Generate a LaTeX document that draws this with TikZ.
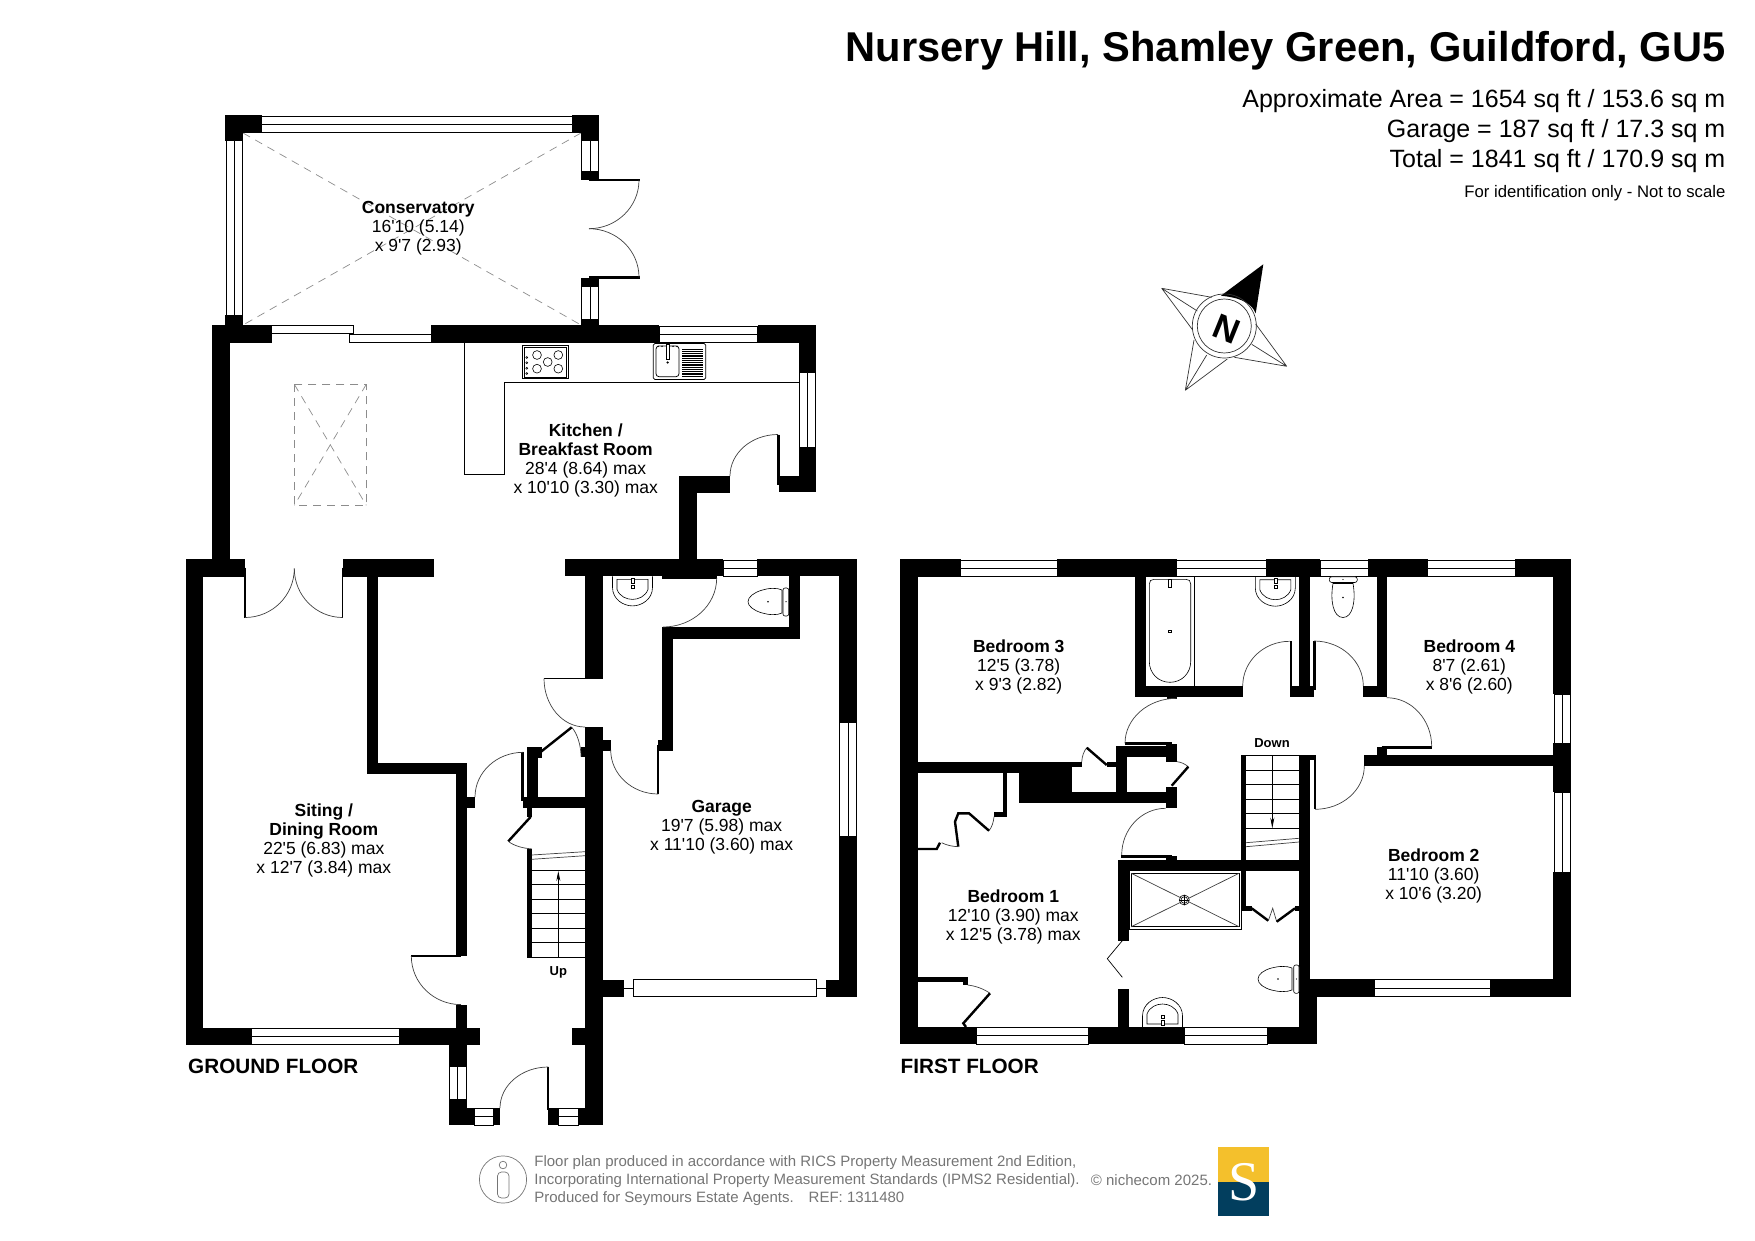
\documentclass[tikz,border=0pt]{standalone}
\usepackage{fontspec}
\usetikzlibrary{calc,arrows.meta}
\newfontfamily\arial{Liberation Sans}
\newfontfamily\tnr{Liberation Serif}
\definecolor{footgrey}{HTML}{757575}
\definecolor{dashgrey}{HTML}{8C8C8C}
\definecolor{logoyellow}{HTML}{F4C02C}
\definecolor{logonavy}{HTML}{023E5E}
\tikzset{
  wall/.style={fill=black,draw=none},
  win/.style={draw=black,line width=0.9pt,fill=white},
  leaf/.style={draw=black,line width=2.4pt,line cap=butt},
  swing/.style={draw=black!75,line width=0.7pt},
  fix/.style={draw=black,line width=0.75pt},
  grey dash/.style={draw=dashgrey,line width=0.7pt,dash pattern=on 8pt off 6pt},
  roomlabel/.style={font=\arial\fontsize{17.5}{19}\selectfont,align=center,inner sep=0pt,text=black},
  headline/.style={font=\arial,anchor=east,inner sep=0pt},
  floorname/.style={font=\arial\bfseries\fontsize{20.7}{24}\selectfont,anchor=west,inner sep=0pt},
  stairname/.style={font=\arial\bfseries\fontsize{13}{15}\selectfont,inner sep=0pt},
  footline/.style={font=\arial\fontsize{15}{18}\selectfont,text=footgrey,anchor=west,inner sep=0pt},
}
\newcommand{\rn}[1]{{\fontsize{17.5}{19}\selectfont\bfseries #1}}
\newcommand{\wl}[4]{\fill[wall] (#1,#2) rectangle (#3,#4);}
% window: horizontal centre line
\newcommand{\winh}[4]{\draw[win] (#1,#2) rectangle (#3,#4); \draw[win] (#1,{(#2+#4)/2}) -- (#3,{(#2+#4)/2});}
% window: vertical centre line
\newcommand{\winv}[4]{\draw[win] (#1,#2) rectangle (#3,#4); \draw[win] ({(#1+#3)/2},#2) -- ({(#1+#3)/2},#4);}
% quarter swing: tip, end, corner
\newcommand{\qarc}[6]{\draw[swing] (#1,#2) .. controls ($(#1,#2)!0.5523!(#5,#6)$) and ($(#3,#4)!0.5523!(#5,#6)$) .. (#3,#4);}
% basin: hanging from a wall, axis at x
\newcommand{\basinshape}{%
  \draw[fix,line width=0.6pt] (-20,0) -- (-20,11) .. controls (-20,23) and (-9,29.5) .. (0,29.5) .. controls (9,29.5) and (20,23) .. (20,11) -- (20,0);
  \draw[fix,line width=0.6pt] (-15.5,3) -- (-15.5,13) .. controls (-13,20) and (-6,23) .. (0,23) .. controls (6,23) and (13,20) .. (15.5,13) -- (15.5,3) -- cycle;
  \draw[fix,fill=white,line width=0.6pt] (-1.5,2) rectangle (1.5,7);
  \draw[fix,line width=0.6pt] (-1.5,9) rectangle (1.5,11.5);
}
\begin{document}
\begin{tikzpicture}[x=1pt,y=-1pt]
\useasboundingbox (0,0) rectangle (1755,1241);

%% ---------- CONSERVATORY
\draw[grey dash] (243,133) -- (581,325);
\draw[grey dash] (581,133) -- (243,325);
\wl{225}{115.3}{261.7}{132.7}
\wl{572.3}{115.3}{599}{132.7}
\wl{225}{115.3}{242.7}{140.7}
\wl{581.3}{115.3}{599}{140}
\wl{225}{315}{242.7}{325}
\winh{261.7}{116.3}{572.3}{132.3}
\winv{226}{140.7}{242.3}{315}
\winv{581.7}{140}{598.5}{171}
\wl{581.3}{171}{599}{180}
\wl{581.3}{278}{599}{286}
\winv{581.7}{286}{598.5}{319.3}
\wl{581.3}{319.3}{599}{325}
\draw[leaf] (589,180) -- (639.5,180);
\draw[leaf] (589,277.3) -- (639.5,277.3);
\qarc{639}{180}{589}{228.7}{639}{228.7}
\qarc{639}{277.3}{589}{228.7}{639}{228.7}

%% ---------- KITCHEN / RECEPTION
\wl{212}{325}{271.7}{342.7}
\wl{431}{325}{659}{342.7}
\wl{757.7}{325}{816}{342.7}
\wl{212}{325}{229.7}{559.4}
\wl{799.3}{325}{816}{372.5}
\wl{799.3}{447}{816}{492}
\wl{779}{475.8}{816}{492}
\wl{679}{475.8}{730}{492.8}
\wl{679}{475.8}{696.7}{559.4}
\draw[win] (271.7,325.7) rectangle (353.3,333.7);
\draw[win] (349.3,334.3) rectangle (431,342.3);
\winh{659}{326}{757.7}{342.7}
\winv{799.7}{372.5}{815.5}{447}
\draw[leaf] (778.3,434.5) -- (778.3,485);
\qarc{778}{434.5}{730}{476}{730}{434.5}
\draw[grey dash] (294.3,384.3) rectangle (366.3,505.3);
\draw[grey dash] (294.3,384.3) -- (366.3,505.3);
\draw[grey dash] (366.3,384.3) -- (294.3,505.3);
\draw[fix] (464.3,342.7) -- (464.3,474.3) -- (504.3,474.3) -- (504.3,382.3) -- (799.3,382.3);
% hob
\draw[fix] (522,345.7) rectangle (568.7,378.7);
\draw[fix,line width=0.5pt] (524,347.5) rectangle (566.7,376.9);
\foreach \cx/\cy in {537/355,558.3/355,547.7/362,537/368.7,558.3/368.7}
  \draw[fix,line width=0.6pt] (\cx,\cy) circle (4.4);
\foreach \ky in {357.5,362.7,368.3,373.5}
  \draw[fix,line width=0.5pt] (526.7,\ky) circle (1);
% sink
\draw[fix,rounded corners=1.5pt] (653.3,343.6) rectangle (705.7,379.4);
\draw[fix,rounded corners=3pt] (656,346) rectangle (679,376.7);
\draw[fix,fill=white,line width=0.6pt] (666,344.5) rectangle (669.3,359);
\foreach \ky in {349.6,351.4,...,377} \draw[fix,line width=1pt] (682,\ky) -- (702.7,\ky);
\fill (667.6,362.5) circle (1.2);
\foreach \kx in {658,662,673,677} \fill (\kx,346.3) circle (0.8);

%% ---------- SITTING ROOM
\wl{185.7}{559}{245}{576.8}
\wl{342.7}{559}{434}{576.8}
\wl{185.7}{559}{203}{1044.5}
\wl{367.3}{559}{377.7}{774}
\wl{367.3}{763.4}{466.7}{774}
\wl{456}{763.4}{466.7}{956}
\wl{456}{1004.6}{466.7}{1044.5}
\wl{456}{797}{475}{807.7}
\wl{185.7}{1027.5}{251.7}{1044.5}
\wl{399.3}{1027.5}{480}{1044.5}
\winh{251.7}{1028}{399.3}{1044.5}
\draw[leaf,line width=1.5pt] (245,567.7) -- (245,617.5);
\draw[leaf,line width=1.5pt] (342.7,567.7) -- (342.7,617.5);
\qarc{245}{617.5}{294.3}{568.5}{294.3}{617.5}
\qarc{342.7}{617.5}{294.3}{568.5}{294.3}{617.5}
\draw[leaf,line width=1.5pt] (411.3,956) -- (461,956);
\qarc{411.3}{956}{461}{1004.6}{411.3}{1004.6}

%% ---------- HALL, STAIRS, PORCH
\wl{585}{726.6}{602.7}{1125}
\wl{603}{740}{610.7}{751}
\wl{527.3}{747}{541.7}{757.5}
\wl{527.3}{747}{538}{807.7}
\wl{523.3}{797}{585}{807.7}
\wl{527.3}{807.7}{532}{816.8}
\wl{581}{746.7}{585}{757.3}
\wl{527.3}{848.8}{532}{957.5}
\draw[leaf] (522.3,752.3) -- (522.3,801);
\qarc{523.3}{752.3}{475}{797}{475}{752.3}
\draw[leaf] (541,751.7) -- (571.7,727.3);
\draw[swing] (571.7,727.3) .. controls (577,733) and (581,745) .. (581,756.7);
\draw[leaf] (530.7,816.8) -- (508.3,841.3);
\draw[swing] (508.3,841.3) .. controls (514,846) and (524,848.5) .. (531.7,848.8);
\foreach \ty in {870,884.8,899.4,913.7,928.3,942.5,957.5} \draw[fix] (532,\ty) -- (585,\ty);
\draw[swing] (531.7,855) -- (585,851.7);
\draw[swing] (531.7,859.3) -- (585,855.7);
\draw[fix,-{Stealth[length=10pt,width=4pt]}] (558.3,957.5) -- (558.3,871);
\node[stairname] (upmark) at (558.3,972) {Up};
% porch
\wl{449}{1044.5}{466.7}{1066}
\winv{449.5}{1066}{466.3}{1099.5}
\wl{449}{1099.5}{466.7}{1125}
\wl{449}{1108}{474}{1125}
\winh{474}{1108.5}{493.3}{1125}
\wl{493.3}{1108}{500}{1125}
\wl{548.3}{1108}{558.3}{1125}
\winh{558.3}{1108.5}{578.3}{1125}
\wl{578.3}{1108}{602.7}{1125}
\wl{571.7}{1027.5}{585}{1044.5}
\draw[leaf,line width=2pt] (548.3,1067) -- (548.3,1110);
\qarc{548.3}{1067}{500}{1108}{500}{1067}

%% ---------- GARAGE & CLOAKROOM
\wl{565}{559.4}{723}{576.4}
\wl{662}{576}{717}{578.7}
\wl{757.3}{559.4}{856.7}{576.4}
\wl{585}{559.4}{603}{678.8}
\wl{839.3}{559.4}{856.7}{722.9}
\wl{839.3}{836.3}{856.7}{996.5}
\wl{661.7}{627}{800}{638.8}
\wl{788.7}{576}{800}{638.8}
\wl{661.7}{627}{672.7}{751}
\wl{658}{740}{672.7}{751}
\wl{603}{979.5}{623.7}{996.5}
\wl{826}{979.5}{856.7}{996.5}
\winh{723}{560.3}{757.3}{576}
\winv{839.8}{722.9}{856.3}{836.3}
\draw[fix] (623.7,988) -- (633.3,988);
\draw[fix] (816.7,988) -- (826,988);
\draw[fix,fill=white] (633.3,979.5) rectangle (816.7,996.5);
\draw[leaf,line width=1.5pt] (544,678.5) -- (594,678.5);
\qarc{544}{678.5}{585}{727}{544}{727}
\draw[leaf,line width=2pt] (658.3,745) -- (658.3,794);
\qarc{658.3}{794}{610.7}{750}{610.7}{794}
\qarc{716.7}{578}{663}{627}{716.7}{627}
\begin{scope}[shift={(632.5,576.4)}] \basinshape \end{scope}
\draw[fix,line width=0.6pt] (782,590) .. controls (772,585) and (748,592) .. (748,601.7) .. controls (748,611) and (772,618) .. (782,613) -- cycle;
\draw[fix,fill=white,line width=0.6pt,rounded corners=2pt] (783,588) rectangle (788.7,616);
\fill (768,601.7) circle (0.9);
\fill (786,601.7) circle (0.7);

%% ---------- FIRST FLOOR outer
\wl{900}{559.3}{917.7}{1044.3}
\wl{900}{559.3}{960.7}{576.7}
\wl{1057}{559.3}{1176.7}{576.7}
\wl{1266.3}{559.3}{1320}{576.7}
\wl{1368.3}{559.3}{1427.7}{576.7}
\wl{1515}{559.3}{1571}{576.7}
\wl{1553.3}{559.3}{1571}{694}
\wl{1553.3}{743.3}{1571}{792}
\wl{1553.3}{872}{1571}{996.7}
\wl{1310}{979.3}{1374}{996.7}
\wl{1490}{979.3}{1571}{996.7}
\wl{1299}{979.3}{1317}{1044.3}
\wl{900}{1027}{976.7}{1044.3}
\wl{1088}{1027}{1184.7}{1044.3}
\wl{1267}{1027}{1317}{1044.3}
\winh{960.7}{560}{1057}{576.7}
\winh{1176.7}{560}{1266.3}{576.7}
\winh{1320}{560}{1368.3}{576.7}
\winh{1427.7}{560}{1515}{576.7}
\winv{1554}{694}{1570.7}{743.3}
\winv{1554}{792}{1570.7}{872}
\winh{1374}{979.8}{1490}{996.5}
\winh{976.7}{1027.3}{1088}{1044}
\winh{1184.7}{1027.3}{1267}{1044}

%% ---------- BATHROOM, WC
\wl{1135}{576.7}{1146}{696.7}
\wl{1135}{686}{1242.7}{696.7}
\wl{1166.7}{690}{1176.7}{698.7}
\wl{1299}{559.3}{1310}{696.7}
\wl{1289.7}{686}{1314}{696.7}
\wl{1363.3}{686}{1386.7}{696.7}
\wl{1376.7}{559.3}{1386.7}{696.7}
\draw[leaf] (1291,641) -- (1291,690);
\draw[leaf] (1314.5,641) -- (1314.5,690);
\qarc{1289.7}{641.3}{1242.7}{686}{1242.7}{641.3}
\qarc{1314}{641}{1363.3}{686}{1363.3}{641}
\draw[fix,line width=0.6pt] (1194.3,576.7) -- (1194.3,686);
\draw[fix,line width=0.6pt] (1154,579.3) -- (1186,579.3) .. controls (1189,579.3) and (1190.7,581) .. (1190.7,584) -- (1190.7,661.5) .. controls (1190.7,673) and (1182,682.3) .. (1170,682.3) .. controls (1158,682.3) and (1149.3,673) .. (1149.3,661.5) -- (1149.3,584) .. controls (1149.3,581) and (1151,579.3) .. (1154,579.3) -- cycle;
\draw[fix,fill=white,line width=0.6pt] (1168.3,579) rectangle (1171.7,587);
\draw[fix,line width=0.6pt] (1168.3,630) rectangle (1171.7,632.6);
\begin{scope}[shift={(1275.3,576.7)}] \basinshape \end{scope}
% WC upper
\draw[fix,fill=white,line width=0.6pt,rounded corners=2.5pt] (1329.3,576.7) rectangle (1357.3,582.5);
\draw[fix,line width=0.6pt] (1333,583.5) .. controls (1330,600) and (1333,617.5) .. (1343,617.5) .. controls (1353,617.5) and (1356,600) .. (1353,583.5) -- cycle;
\fill (1343,597.5) circle (0.9);
\fill (1343,579.5) circle (0.7);

%% ---------- BEDROOM PARTITIONS
\wl{1364.3}{755}{1571}{766}
\wl{1299.3}{755}{1310}{1044.3}
\wl{1299.3}{755}{1315.7}{760}
\wl{1376.7}{746.7}{1386.7}{755}
\draw[leaf] (1381.7,747.5) -- (1431.7,747.5);
\qarc{1431.7}{746.7}{1386.7}{697.7}{1431.7}{697.7}
\draw[leaf] (1315,760) -- (1315,809.3);
\qarc{1315}{809.3}{1364.3}{766}{1364.3}{809.3}
\wl{917.7}{762}{1072}{772.7}
\wl{1072}{762}{1081.7}{767}
\wl{1019}{772.7}{1072}{802.7}
\wl{1019}{792.3}{1176.7}{802.7}
\wl{1116}{746}{1126.7}{792.3}
\wl{1116}{746}{1176.7}{756.7}
\wl{1106.7}{762.3}{1116}{766.7}
\wl{1165.7}{744}{1177}{761.7}
\wl{1165.7}{787}{1177}{808.3}
\draw[leaf] (1125,743.5) -- (1171.7,743.5);
\qarc{1125}{743.3}{1176.7}{698.3}{1125}{698.3}
\draw[swing] (1081.7,762) .. controls (1082,756) and (1084,751) .. (1086.7,747.7);
\draw[leaf] (1086.7,747.7) -- (1106.7,765);
\draw[swing] (1177,761.7) .. controls (1181,762) and (1185,764) .. (1188.3,766.7);
\draw[leaf] (1188.3,766.7) -- (1171.7,785.7);
\qarc{1121.7}{855}{1165.7}{808.3}{1121.7}{808.3}
\draw[leaf] (1121,856.5) -- (1171.7,856.5);
\wl{1165.7}{856}{1177}{860}
%% bedroom 1 wardrobes
\wl{1002.7}{772.7}{1007}{816.7}
\wl{994}{812}{1007}{816.7}
\draw[swing] (989,830.7) .. controls (992,827) and (993.5,822) .. (994,816.7);
\draw[leaf] (989,830.7) -- (969,813.3) -- (958.3,813.3) -- (955,821.7) -- (958.3,846.7);
\draw[swing] (958.3,846.7) .. controls (952,846.5) and (946,845) .. (941.7,842.7);
\draw[leaf] (940,842.7) -- (936.7,849) -- (917.7,849);
\wl{917.7}{976.7}{967.7}{981.7}
\wl{962.7}{976.7}{967.7}{985}
\draw[swing] (967.7,985) .. controls (976,986) and (984,989) .. (990,993.3);
\draw[leaf] (990,993.3) -- (963.3,1023.3) -- (966,1027);

%% ---------- STAIRS DOWN + ENSUITE
\wl{1241.3}{755}{1246}{860}
\wl{1118}{860}{1309}{870.7}
\foreach \ty in {755,770.3,784.3,799.3,813.7,828.3} \draw[fix] (1246,\ty) -- (1299,\ty);
\draw[fix,-{Stealth[length=10.7pt,width=4pt]}] (1272.3,755) -- (1272.3,828.3);
\draw[swing] (1246,842.7) -- (1299,838.3);
\draw[swing] (1246,846.7) -- (1299,842);
\node[stairname] (downmark) at (1272,743) {Down};
\wl{1118}{860}{1129}{940.7}
\wl{1118}{989.3}{1129}{1027}
\draw[swing,draw=black] (1122.3,940.7) -- (1107.3,958.7) -- (1122.3,977.3);
\draw[fix] (1129,870.7) rectangle (1241.7,929.3);
\draw[fix,line width=0.9pt] (1131.3,873.3) rectangle (1239,926.7);
\draw[swing] (1131.3,873.3) -- (1239,926.7);
\draw[swing] (1131.3,926.7) -- (1239,873.3);
\draw[fix,fill=white,line width=0.6pt] (1184.3,900) circle (5);
\draw[fix,line width=0.6pt] (1184.3,900) circle (3.3);
\draw[fix,line width=0.6pt] (1179.3,900) -- (1189.3,900) (1184.3,895) -- (1184.3,905);
\wl{1241.7}{870.7}{1246}{906}
\wl{1241.7}{906}{1251.7}{910.7}
\wl{1295}{906}{1299}{910.7}
\draw[leaf] (1251.7,908.3) -- (1268.3,920.7);
\draw[swing] (1268.3,920.7) -- (1272.7,908.3) -- (1276.7,921.7);
\draw[leaf] (1276.7,921.7) -- (1295,908.3);
\begin{scope}[shift={(1162.5,1027)},yscale=-1] \basinshape \end{scope}
\draw[fix,line width=0.6pt] (1292,968) .. controls (1282,963.5) and (1258,969) .. (1258,979) .. controls (1258,989) and (1282,994.5) .. (1292,990) -- cycle;
\draw[fix,fill=white,line width=0.6pt,rounded corners=2pt] (1293.7,965) rectangle (1299,993.3);
\fill (1278,979) circle (0.9);
\fill (1296.5,979) circle (0.7);

%% ---------- ROOM LABELS
\node[roomlabel] (conservatory) at (418.3,228.2) {\rn{Conservatory}\\16'10 (5.14)\\x 9'7 (2.93)};
\node[roomlabel] (kitchen) at (585.7,460.5) {\rn{Kitchen /}\\\rn{Breakfast Room}\\28'4 (8.64) max\\x 10'10 (3.30) max};
\node[roomlabel] (sitting) at (323.8,840.2) {\rn{Siting /}\\\rn{Dining Room}\\22'5 (6.83) max\\x 12'7 (3.84) max};
\node[roomlabel] (garage) at (721.7,827.2) {\rn{Garage}\\19'7 (5.98) max\\x 11'10 (3.60) max};
\node[roomlabel] (bedthree) at (1018.7,666.5) {\rn{Bedroom 3}\\12'5 (3.78)\\x 9'3 (2.82)};
\node[roomlabel] (bedfour) at (1469.3,666.5) {\rn{Bedroom 4}\\8'7 (2.61)\\x 8'6 (2.60)};
\node[roomlabel] (bedtwo) at (1433.7,875.5) {\rn{Bedroom 2}\\11'10 (3.60)\\x 10'6 (3.20)};
\node[roomlabel] (bedone) at (1013.3,917.2) {\rn{Bedroom 1}\\12'10 (3.90) max\\x 12'5 (3.78) max};
\node[floorname] (groundfloor) at (188,1066) {GROUND FLOOR};
\node[floorname] (firstfloor) at (900.5,1066) {FIRST FLOOR};

%% ---------- HEADER
\node[headline,font=\arial\bfseries\fontsize{41.65}{48}\selectfont] (title) at (1725.5,51.2) {Nursery Hill, Shamley Green, Guildford, GU5};
\node[headline,font=\arial\fontsize{25}{30}\selectfont] (areaone) at (1725.5,101) {Approximate Area = 1654 sq ft / 153.6 sq m};
\node[headline,font=\arial\fontsize{25}{30}\selectfont] (areatwo) at (1725.5,131.2) {Garage = 187 sq ft / 17.3 sq m};
\node[headline,font=\arial\fontsize{25}{30}\selectfont] (areathree) at (1725.5,161.2) {Total = 1841 sq ft / 170.9 sq m};
\node[headline,font=\arial\fontsize{16.7}{20}\selectfont] (idnote) at (1725.5,193.5) {For identification only - Not to scale};

%% ---------- COMPASS
\fill[black] (1263.3,264.3) -- (1221,295.7) .. controls (1234.8,297.2) and (1250.5,300.4) .. (1255.7,313.3) -- cycle;
\draw[swing,draw=black!80] (1161.7,288.3) -- (1211.7,297.3)
  (1161.7,288.3) -- (1197.3,311)
  (1161.7,288.3) -- (1192.7,330)
  (1185.3,390.3) -- (1194,340)
  (1185.3,390.3) -- (1206.7,355)
  (1185.3,390.3) -- (1227.3,359)
  (1286.7,366.3) -- (1234.3,357.3)
  (1286.7,366.3) -- (1251.7,344.3)
  (1286.7,366.3) -- (1255.7,324);
\draw[swing,draw=black!80] (1224.3,326) circle (32);
\draw[swing,draw=black!80] (1224.3,326) circle (27);
\node[font=\arial\bfseries\fontsize{35}{38}\selectfont,rotate=-22,inner sep=0pt] (northmark) at (1226.5,329) {N};

%% ---------- FOOTER
\draw[footgrey,line width=0.7pt] (503,1179.5) circle (23.6);
\draw[footgrey,line width=0.7pt] (503,1165) circle (3.8);
\draw[footgrey,line width=0.7pt,rounded corners=4pt] (497.5,1172) rectangle (509,1198);
\node[footline] (footone) at (534.2,1163) {Floor plan produced in accordance with RICS Property Measurement 2nd Edition,};
\node[footline] (foottwo) at (534.2,1181) {Incorporating International Property Measurement Standards (IPMS2 Residential).};
\node[footline] (footthree) at (534.2,1199) {Produced for Seymours Estate Agents.\hspace{1em}REF: 1311480};
\node[footline] (footcopy) at (1090.7,1180.6) {\textcopyright\ nichecom 2025.};
\fill[logoyellow] (1218.3,1147.4) rectangle (1269.3,1181.9);
\fill[logonavy] (1218.3,1181.9) rectangle (1269.3,1216.4);
\node[font=\tnr\fontsize{56}{58}\selectfont,text=white,inner sep=0pt] (logos) at (1243.8,1182.4) {S};
\end{tikzpicture}
\end{document}
